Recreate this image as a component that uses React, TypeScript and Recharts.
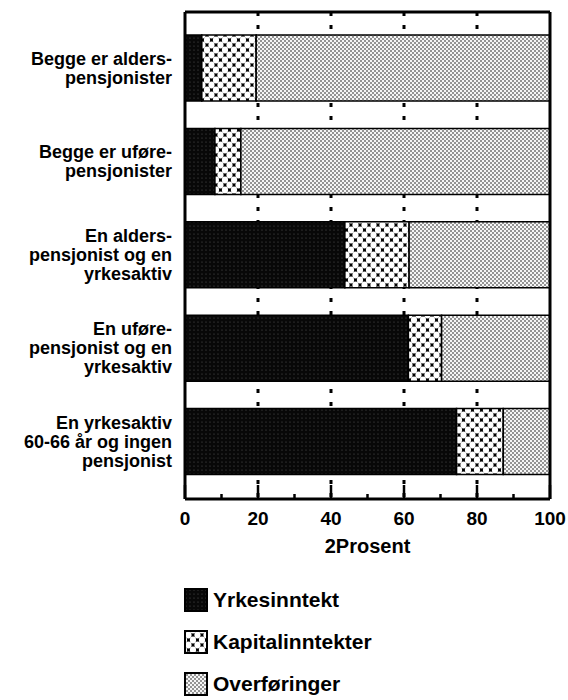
import { BarChart, Bar, XAxis, YAxis, CartesianGrid, Legend } from 'recharts';

// categories (line breaks as in the original labels)
const categories = [
  'Begge er alders-\npensjonister',
  'Begge er uføre-\npensjonister',
  'En alders-\npensjonist og en\nyrkesaktiv',
  'En uføre-\npensjonist og en\nyrkesaktiv',
  'En yrkesaktiv\n60-66 år og ingen\npensjonist',
];

// shares in percent
const yrkesinntekt = [4.6, 8.2, 43.8, 61.2, 74.4];
const kapitalinntekter = [14.9, 7.1, 17.6, 9.1, 12.8];
const overforinger = [80.5, 84.7, 38.6, 29.7, 12.8];

const axisTicks = [0, 10, 20, 30, 40, 50, 60, 70, 80, 90, 100];
const gridTicks = [20, 40, 60, 80];
const axisTitle = '2Prosent';

const series = [
  { key: 'yrkesinntekt', name: 'Yrkesinntekt', fill: 'url(#patYrk)' },
  { key: 'kapitalinntekter', name: 'Kapitalinntekter', fill: 'url(#patKap)' },
  { key: 'overforinger', name: 'Overføringer', fill: 'url(#patOvf)' },
];

const data = categories.map((name, i) => ({
  name,
  yrkesinntekt: yrkesinntekt[i],
  kapitalinntekter: kapitalinntekter[i],
  overforinger: overforinger[i],
}));

const FONT = '"Liberation Sans", Arial, sans-serif';
const frameLine = { stroke: '#000', strokeWidth: 3 };

const CategoryTick = ({ x, y, payload }: any) => {
  const lines = String(payload.value).split('\n');
  const lh = 19;
  const first = y - ((lines.length - 1) * lh) / 2 + 6.5;
  return (
    <text x={x} y={first} textAnchor="end" fontFamily={FONT} fontWeight="bold" fontSize={18} fill="#000">
      {lines.map((l, i) => (
        <tspan key={i} x={x} y={first + i * lh}>
          {l}
        </tspan>
      ))}
    </text>
  );
};

const ValueTick = ({ x, y, payload }: any) => {
  const v = payload.value;
  const major = v % 20 === 0;
  return (
    <g>
      <line x1={x} x2={x} y1={y} y2={y - (major ? 14 : 5)} stroke="#000" strokeWidth={2.5} />
      {major && (
        <text x={x} y={y + 26} textAnchor="middle" fontFamily={FONT} fontWeight="bold" fontSize={19} fill="#000">
          {v}
        </text>
      )}
    </g>
  );
};

// legend keeps the series order (Recharts would sort it by name)
const renderLegend = () => (
  <div>
    {series.map((s, i) => (
      <div
        key={s.key}
        style={{ height: 30, marginBottom: i < series.length - 1 ? 12 : 0, display: 'flex', alignItems: 'center' }}
      >
        <svg width={24} height={24} style={{ marginRight: 5 }}>
          <rect x={1} y={1} width={22} height={22} fill={s.fill} stroke="#000" strokeWidth={2} />
        </svg>
        <span style={{ fontFamily: FONT, fontWeight: 'bold', fontSize: 21, color: '#000' }}>{s.name}</span>
      </div>
    ))}
  </div>
);

export default function App() {
  return (
    <>
      <style>{'body{margin:0;overflow:hidden}'}</style>
      <BarChart
        width={568}
        height={700}
        data={data}
        layout="vertical"
        margin={{ top: 11, right: 17, left: 0, bottom: 141 }}
      >
        <defs>
          <pattern id="patYrk" width={4} height={4} patternUnits="userSpaceOnUse">
            <rect width={4} height={4} fill="#080808" />
            <circle cx={2} cy={2} r={0.6} fill="#555" />
          </pattern>
          <pattern id="patKap" width={9} height={10} patternUnits="userSpaceOnUse">
            <rect width={9} height={10} fill="#000" />
            <ellipse cx={0} cy={0} rx={3.1} ry={3.4} fill="#fff" />
            <ellipse cx={9} cy={0} rx={3.1} ry={3.4} fill="#fff" />
            <ellipse cx={0} cy={10} rx={3.1} ry={3.4} fill="#fff" />
            <ellipse cx={9} cy={10} rx={3.1} ry={3.4} fill="#fff" />
            <ellipse cx={4.5} cy={5} rx={3.1} ry={3.4} fill="#fff" />
          </pattern>
          <pattern id="patOvf" width={4} height={4} patternUnits="userSpaceOnUse">
            <rect width={4} height={4} fill="#f6f6f6" />
            <circle cx={1} cy={1} r={0.75} fill="#000" />
            <circle cx={3} cy={3} r={0.75} fill="#000" />
          </pattern>
        </defs>
        <CartesianGrid
          horizontal={false}
          verticalValues={gridTicks}
          stroke="#000"
          strokeWidth={3}
          strokeDasharray="4 9"
        />
        <XAxis
          type="number"
          domain={[0, 100]}
          ticks={axisTicks}
          interval={0}
          height={60}
          axisLine={frameLine}
          tickLine={false}
          tickSize={0}
          tickMargin={0}
          tick={<ValueTick />}
          label={{ value: axisTitle, position: 'insideBottom', offset: 6, fill: '#000', fontFamily: FONT, fontWeight: 'bold', fontSize: 20 }}
        />
        <XAxis xAxisId="top" orientation="top" type="number" domain={[0, 100]} height={1} tick={false} tickLine={false} axisLine={frameLine} />
        <YAxis
          type="category"
          dataKey="name"
          width={185}
          axisLine={frameLine}
          tickLine={false}
          tickSize={0}
          tickMargin={13}
          interval={0}
          padding={{ top: 9, bottom: 11 }}
          tick={<CategoryTick />}
        />
        <YAxis yAxisId="right" orientation="right" width={1} tick={false} tickLine={false} axisLine={frameLine} />
        {series.map((s) => (
          <Bar
            key={s.key}
            dataKey={s.key}
            name={s.name}
            stackId="a"
            fill={s.fill}
            stroke="#000"
            strokeWidth={1.5}
            barSize={66}
            isAnimationActive={false}
          />
        ))}
        <Legend
          layout="vertical"
          align="center"
          verticalAlign="middle"
          wrapperStyle={{ top: 585, left: 184, width: 300 }}
          content={renderLegend}
        />
      </BarChart>
    </>
  );
}
